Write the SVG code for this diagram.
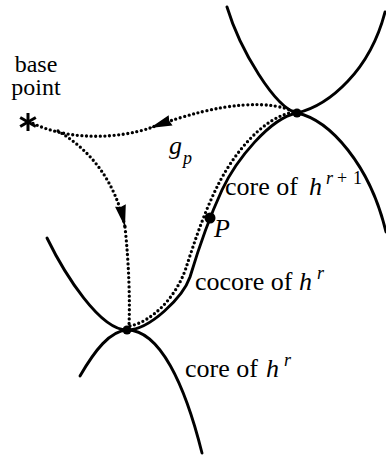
<svg xmlns="http://www.w3.org/2000/svg" width="386" height="457" viewBox="0 0 386 457">
<style>
.curve{fill:none;stroke:#000;stroke-width:2.9;stroke-linecap:round}
.dots{fill:none;stroke:#000;stroke-width:3.3;stroke-linecap:round;stroke-dasharray:0 4.6}
.dot{fill:#000}
.lbl{font-size:26px}
.it{font-style:italic}
.sup{font-size:18px}
</style>
<defs>
<marker id="arr" markerUnits="userSpaceOnUse" markerWidth="24" markerHeight="14" refX="22" refY="7" orient="auto" overflow="visible">
<path d="M22,7 L0,1.5 L1.5,7 L0,12.5 Z" fill="#000"/>
</marker>
</defs>
<rect width="386" height="457" fill="#fff"/>
<g id="curves">
<path class="curve" d="M227,7 C240,50 275,108 297,113 C330,105 370,70 385,12"/>
<path class="curve" d="M297,113 C330,120 370,165 386,232"/>
<path class="curve" d="M47,238 C65,275 100,330 127,330 C150,330 183,297 190,277 C199,247 210,216 222,190 C236,160 270,118 297,113"/>
<path class="curve" d="M80,376 C95,350 110,331 127,330 C160,330 185,385 202,453"/>
</g>
<g id="connectors">
<path class="dots" d="M297,113 C272,100 225,100 150,128" marker-end="url(#arr)"/>
<path class="dots" d="M150,128 C120,138 70,142 30,122"/>
<path class="dots" d="M58,131 C90,150 115,180 125,227" marker-end="url(#arr)"/>
<path class="dots" d="M125,227 C129,265 130,300 129,326"/>
<path class="dots" d="M130,326 C150,322 175,300 186,268 C194,243 204,213 217,187 C231,158 262,116 295,112"/>
</g>
<g font-family="'Liberation Serif', 'DejaVu Serif', 'Times New Roman', serif" fill="#000">
<g id="base-point">
<g stroke="#000" stroke-width="3" stroke-linecap="butt">
<line x1="28" y1="113" x2="28" y2="131"/>
<line x1="20.2" y1="117.5" x2="35.8" y2="126.5"/>
<line x1="20.2" y1="126.5" x2="35.8" y2="117.5"/>
</g>
<text x="36" y="72" font-size="24" text-anchor="middle">base</text>
<text x="36" y="95" font-size="24" text-anchor="middle">point</text>
</g>
<g id="crossing-upper">
<circle class="dot" cx="297" cy="113" r="4.5"/>
</g>
<g id="crossing-lower">
<circle class="dot" cx="127" cy="330" r="4.5"/>
</g>
<g id="point-P">
<circle class="dot" cx="210" cy="218" r="5.5"/>
<text class="lbl it" x="214" y="237">P</text>
</g>
<g id="label-gp">
<text class="lbl it" x="169" y="154">g</text>
<text class="sup it" x="183" y="164">p</text>
</g>
<g id="label-core-r1">
<text class="lbl" x="225" y="195">core of</text>
<text class="lbl it" x="309" y="195">h</text>
<text class="sup it" x="326" y="184">r</text>
<text class="sup" x="337" y="184">+</text>
<text class="sup" x="353" y="184">1</text>
</g>
<g id="label-cocore">
<text class="lbl" x="195" y="290">cocore of</text>
<text class="lbl it" x="299" y="290">h</text>
<text class="sup it" x="317" y="279">r</text>
</g>
<g id="label-core-r">
<text class="lbl" x="185" y="377">core of</text>
<text class="lbl it" x="266" y="377">h</text>
<text class="sup it" x="284" y="366">r</text>
</g>
</g>
</svg>
